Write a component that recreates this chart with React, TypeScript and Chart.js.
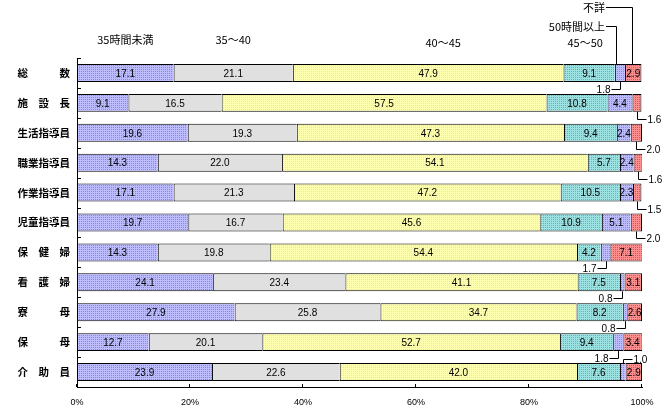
import React, { useEffect, useRef } from "react";
import { Chart, registerables } from "chart.js";

Chart.register(...registerables);

const CATEGORIES = [
  "総　　　数",
  "施　設　長",
  "生活指導員",
  "職業指導員",
  "作業指導員",
  "児童指導員",
  "保　健　婦",
  "看　護　婦",
  "寮　　　母",
  "保　　　母",
  "介　助　員",
];
const SERIES_NAMES = ["35時間未満", "35～40", "40～45", "45～50", "50時間以上", "不詳"];

const UNDER35 = [17.1, 9.1, 19.6, 14.3, 17.1, 19.7, 14.3, 24.1, 27.9, 12.7, 23.9];
const H35_40 = [21.1, 16.5, 19.3, 22.0, 21.3, 16.7, 19.8, 23.4, 25.8, 20.1, 22.6];
const H40_45 = [47.9, 57.5, 47.3, 54.1, 47.2, 45.6, 54.4, 41.1, 34.7, 52.7, 42.0];
const H45_50 = [9.1, 10.8, 9.4, 5.7, 10.5, 10.9, 4.2, 7.5, 8.2, 9.4, 7.6];
const OVER50 = [1.8, 4.4, 2.4, 2.4, 2.3, 5.1, 1.7, 0.8, 0.8, 1.8, 1.0];
const UNKNOWN = [2.9, 1.6, 2.0, 1.6, 1.5, 2.0, 7.1, 3.1, 2.6, 3.4, 2.9];
const X_TICKS = [0, 20, 40, 60, 80, 100];

// labels drawn outside the bar with a leader line: [row, dataset, side]
const OUTSIDE_LABELS: [number, number, string][] = [
  [0, 4, "belowLeft"],
  [1, 5, "belowRight"],
  [2, 5, "belowRight"],
  [3, 5, "belowRight"],
  [4, 5, "belowRight"],
  [5, 5, "belowRight"],
  [6, 4, "belowLeft"],
  [7, 4, "belowLeft"],
  [8, 4, "belowLeft"],
  [9, 4, "belowLeft"],
  [10, 4, "aboveRight"],
];

const LABEL_FONT = "10px 'Liberation Sans', Arial, sans-serif";
const NAME_FONT = "11px 'Noto Sans CJK JP', sans-serif";

function pattern(base: string, dot: string): CanvasPattern | string {
  const c = document.createElement("canvas");
  c.width = 2;
  c.height = 2;
  const g = c.getContext("2d");
  if (!g) return base;
  g.fillStyle = base;
  g.fillRect(0, 0, 2, 2);
  g.fillStyle = dot;
  g.fillRect(1, 1, 1, 1);
  return g.createPattern(c, "repeat") || base;
}

const overlayPlugin = {
  id: "overlay",
  afterDatasetsDraw(chart: any) {
    const ctx: CanvasRenderingContext2D = chart.ctx;
    const area = chart.chartArea;
    const xs = chart.scales.x;
    ctx.save();
    ctx.strokeStyle = "#000";
    ctx.lineWidth = 1;
    ctx.fillStyle = "#000";

    // inward ticks on x axis
    X_TICKS.forEach((v) => {
      const px = Math.round(xs.getPixelForValue(v)) - 0.5;
      ctx.beginPath();
      ctx.moveTo(px, area.bottom - 3);
      ctx.lineTo(px, area.bottom);
      ctx.stroke();
    });
    // inward ticks on y axis at category boundaries
    const n = CATEGORIES.length;
    for (let i = 0; i <= n; i++) {
      const py = Math.round(area.top + (i * (area.bottom - area.top)) / n) + 0.5;
      ctx.beginPath();
      ctx.moveTo(area.left, py);
      ctx.lineTo(area.left + 4, py);
      ctx.stroke();
    }

    const findOutside = (r: number, d: number) =>
      OUTSIDE_LABELS.find((o) => o[0] === r && o[1] === d);

    // value labels
    ctx.font = LABEL_FONT;
    chart.data.datasets.forEach((ds: any, di: number) => {
      const meta = chart.getDatasetMeta(di);
      meta.data.forEach((el: any, ri: number) => {
        const v = ds.data[ri];
        const txt = v.toFixed(1);
        const start = Math.min(el.base, el.x);
        const end = Math.min(Math.max(el.base, el.x), area.right);
        const cx = (start + end) / 2;
        const h = el.height;
        const o = findOutside(ri, di);
        if (!o) {
          ctx.textAlign = "center";
          ctx.textBaseline = "middle";
          ctx.fillText(txt, cx, el.y + 1);
          return;
        }
        const side = o[2];
        const lx = Math.round(cx) + 0.5;
        if (side === "belowLeft") {
          const y0 = el.y + h / 2;
          const ly = Math.round(y0 + 7) + 0.5;
          ctx.beginPath();
          ctx.moveTo(lx, y0);
          ctx.lineTo(lx, ly);
          ctx.lineTo(lx - 9, ly);
          ctx.stroke();
          ctx.textAlign = "right";
          ctx.textBaseline = "middle";
          ctx.fillText(txt, lx - 10, ly + 1);
        } else if (side === "belowRight") {
          const y0 = el.y + h / 2;
          const ly = Math.round(y0 + 7) + 0.5;
          ctx.beginPath();
          ctx.moveTo(lx, y0);
          ctx.lineTo(lx, ly);
          ctx.lineTo(lx + 9, ly);
          ctx.stroke();
          ctx.textAlign = "left";
          ctx.textBaseline = "middle";
          ctx.fillText(txt, lx + 10, ly + 1);
        } else {
          const y0 = el.y - h / 2;
          const ly = Math.round(y0 - 4) + 0.5;
          ctx.beginPath();
          ctx.moveTo(lx, y0);
          ctx.lineTo(lx, ly);
          ctx.lineTo(lx + 9, ly);
          ctx.stroke();
          ctx.textAlign = "left";
          ctx.textBaseline = "middle";
          ctx.fillText(txt, lx + 10, ly + 1);
        }
      });
    });

    // series names above the first bar
    ctx.font = NAME_FONT;
    const first = chart.data.datasets.map((_: any, di: number) => chart.getDatasetMeta(di).data[0]);
    const segCenter = (el: any) =>
      (Math.min(el.base, el.x) + Math.min(Math.max(el.base, el.x), area.right)) / 2;
    const nameDx = [0, 0, 15, -4];
    const nameDy = [18, 18, 15, 15];
    for (let k = 0; k < 4; k++) {
      ctx.textAlign = "center";
      ctx.textBaseline = "middle";
      ctx.fillText(SERIES_NAMES[k], segCenter(first[k]) + nameDx[k], area.top - nameDy[k]);
    }
    const textRight = area.right - 37;
    const barTop = first[0].y - first[0].height / 2;
    [
      [4, 32, -3],
      [5, 51, 0],
    ].forEach(([k, dy, dx]) => {
      const ty = Math.round(area.top - dy) + 0.5;
      ctx.textAlign = "right";
      ctx.textBaseline = "middle";
      ctx.fillText(SERIES_NAMES[k], textRight, ty);
      const lx = Math.round(segCenter(first[k]) + dx) - 0.5;
      ctx.beginPath();
      ctx.moveTo(textRight + 1, ty);
      ctx.lineTo(lx, ty);
      ctx.lineTo(lx, barTop);
      ctx.stroke();
    });
    ctx.restore();
  },
};

export default function App() {
  const ref = useRef<HTMLCanvasElement | null>(null);
  useEffect(() => {
    if (!ref.current) return;
    const colors = [
      pattern("#bcbcff", "#8484ff"),
      "#e0e0e0",
      pattern("#ffffb0", "#eeee70"),
      pattern("#9de2e2", "#55bbbb"),
      pattern("#bcbcff", "#8484ff"),
      pattern("#ff8e8e", "#e05050"),
    ];
    const values = [UNDER35, H35_40, H40_45, H45_50, OVER50, UNKNOWN];
    const chart = new Chart(ref.current, {
      type: "bar",
      data: {
        labels: CATEGORIES,
        datasets: values.map((d, i) => ({
          label: SERIES_NAMES[i],
          data: d,
          backgroundColor: colors[i] as any,
          borderColor: "#000",
          borderWidth:
            i === values.length - 1
              ? { top: 1, bottom: 1, left: 1, right: 1 }
              : { top: 1, bottom: 1, left: 1, right: 0 },
          borderSkipped: false,
          barPercentage: 0.6,
          categoryPercentage: 1,
          clip: { left: 5, top: 5, right: 0, bottom: 5 } as any,
        })),
      },
      options: {
        indexAxis: "y",
        animation: false,
        responsive: true,
        maintainAspectRatio: false,
        devicePixelRatio: 1,
        layout: { padding: { top: 58, right: 24, left: 0, bottom: 0 } },
        plugins: {
          legend: { display: false },
          tooltip: { enabled: false },
        },
        scales: {
          x: {
            stacked: true,
            min: 0,
            max: 100,
            afterFit: (s: any) => {
              s.height = 28;
            },
            grid: { display: false, drawTicks: false },
            border: { display: true, color: "#000", width: 1 },
            ticks: {
              stepSize: 20,
              padding: 10,
              color: "#000",
              font: { family: "'Liberation Sans', Arial, sans-serif", size: 9 },
              callback: (v: any) => v + "%",
            },
          },
          y: {
            stacked: true,
            afterFit: (s: any) => {
              s.width = 77;
            },
            grid: { display: false, drawTicks: false },
            border: { display: true, color: "#000", width: 1 },
            ticks: {
              padding: 7,
              color: "#000",
              font: { family: "'Noto Sans CJK JP', sans-serif", size: 10.5, weight: "bold" },
            },
          },
        },
      },
      plugins: [overlayPlugin],
    });
    return () => chart.destroy();
  }, []);
  return (
    <div style={{ position: "fixed", left: 0, top: 0, width: 666, height: 415, background: "#fff" }}>
      <canvas ref={ref} />
    </div>
  );
}
